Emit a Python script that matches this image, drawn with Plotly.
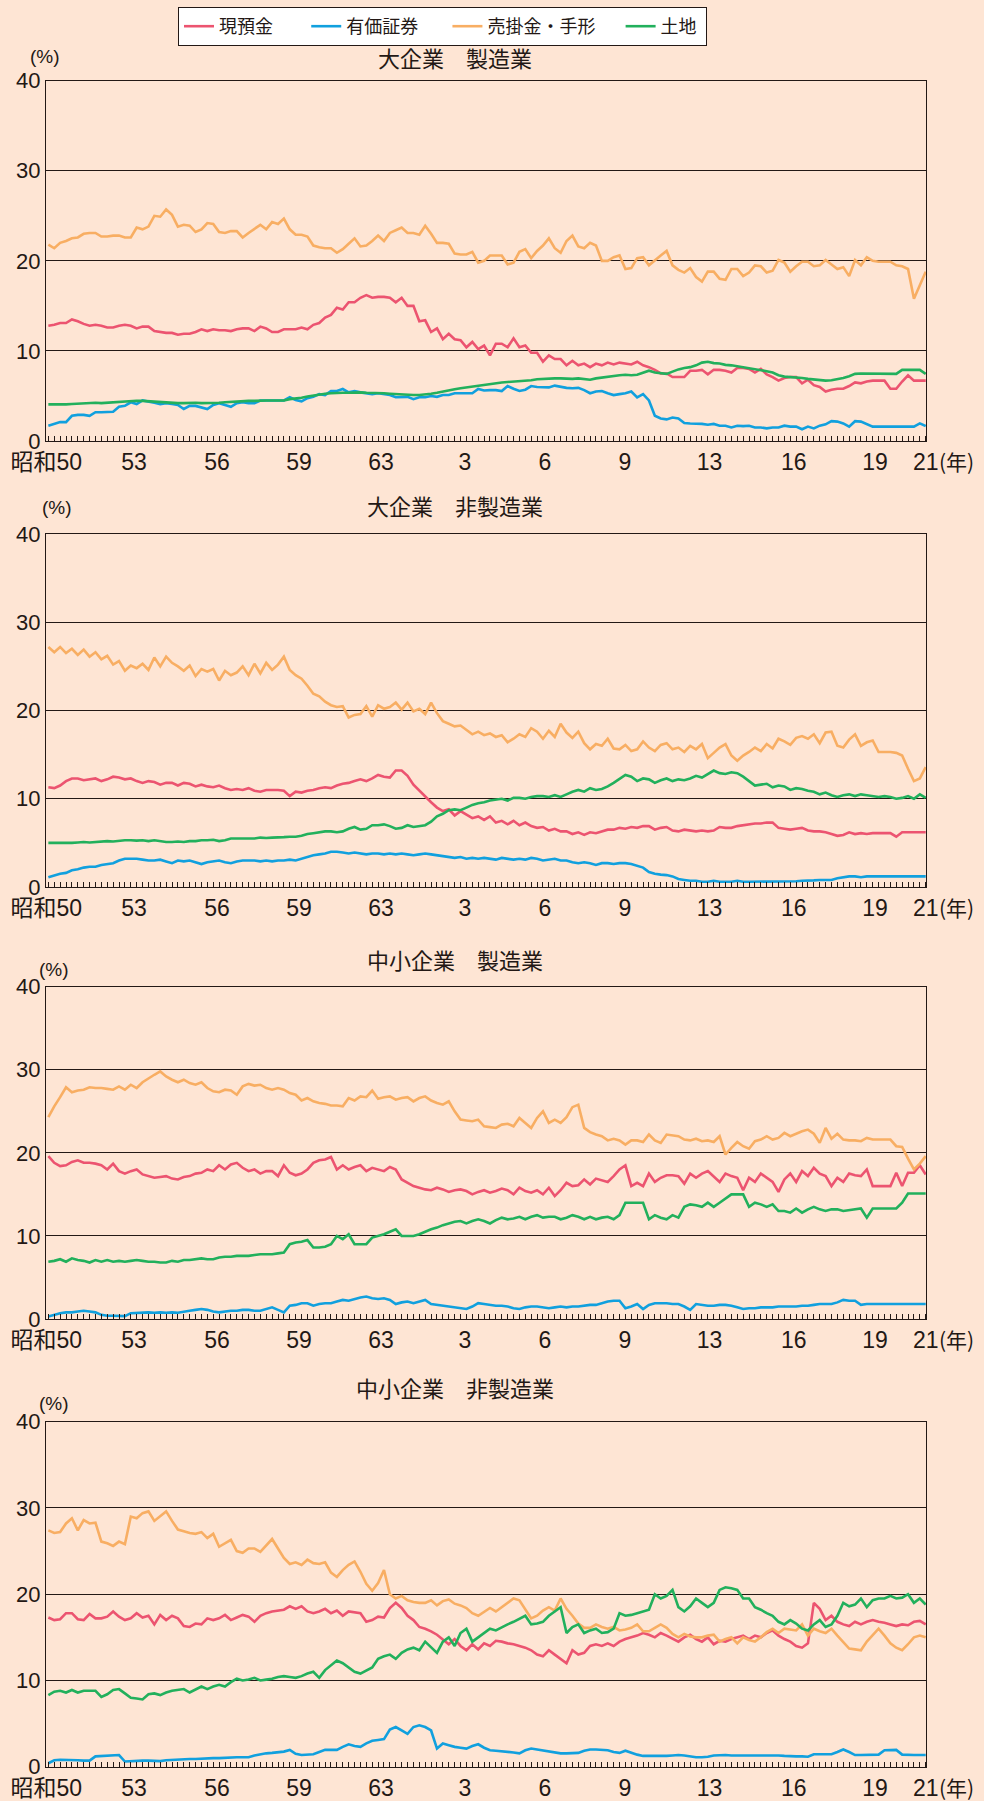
import plotly.graph_objects as go

# 資産構成比（%）・四半期
series_names = ["現預金", "有価証券", "売掛金・手形", "土地"]
series_colors = ["#EC5470", "#11A0DE", "#F8AE63", "#22B05C"]
# trailing no-break spaces widen each legend entry
legend_pad = [7, 6, 5, 1]

# 大企業　製造業
large_mfg_cash = [
    12.8, 12.9, 13.1, 13.1, 13.5, 13.3, 13.0, 12.8, 12.9, 12.8,
    12.6, 12.6, 12.8, 12.9, 12.8, 12.5, 12.7, 12.7, 12.2, 12.1,
    12.0, 12.0, 11.8, 11.9, 11.9, 12.1, 12.4, 12.2, 12.4, 12.3,
    12.3, 12.2, 12.4, 12.5, 12.5, 12.2, 12.7, 12.5, 12.1, 12.1,
    12.4, 12.4, 12.4, 12.6, 12.4, 12.9, 13.1, 13.7, 14.0, 14.8,
    14.6, 15.4, 15.4, 15.9, 16.2, 15.9, 16.0, 16.0, 15.9, 15.4,
    15.9, 15.0, 15.0, 13.3, 13.4, 12.1, 12.5, 11.3, 11.9, 11.3,
    11.2, 10.4, 11.0, 10.2, 10.6, 9.5, 10.8, 10.8, 10.4, 11.4,
    10.4, 10.6, 9.8, 9.8, 8.8, 9.5, 9.1, 9.1, 8.4, 8.9,
    8.4, 8.6, 8.2, 8.6, 8.4, 8.7, 8.5, 8.7, 8.6, 8.5,
    8.8, 8.4, 8.2, 7.9, 7.5, 7.5, 7.1, 7.1, 7.1, 7.8,
    7.8, 7.9, 7.4, 7.9, 7.9, 7.8, 7.6, 8.1, 8.1, 8.0,
    7.6, 8.0, 7.4, 7.1, 6.7, 7.0, 7.1, 7.1, 6.4, 6.8,
    6.2, 6.0, 5.5, 5.7, 5.8, 5.8, 6.1, 6.5, 6.4, 6.6,
    6.7, 6.7, 6.7, 5.8, 5.8, 6.6, 7.3, 6.7, 6.7, 6.7,
]
large_mfg_sec = [
    1.7, 1.9, 2.1, 2.1, 2.8, 2.9, 2.9, 2.8, 3.2, 3.2,
    3.2, 3.25, 3.8, 3.9, 4.3, 4.1, 4.5, 4.4, 4.25, 4.1,
    4.2, 4.1, 4.0, 3.55, 3.9, 3.9, 3.7, 3.55, 4.0, 4.2,
    4.0, 3.8, 4.2, 4.3, 4.2, 4.2, 4.5, 4.5, 4.55, 4.5,
    4.5, 4.85, 4.55, 4.4, 4.75, 4.9, 5.2, 5.1, 5.55, 5.55,
    5.77, 5.4, 5.55, 5.4, 5.3, 5.2, 5.3, 5.2, 5.1, 4.85,
    4.85, 4.9, 4.65, 4.85, 4.85, 5.0, 4.9, 5.1, 5.1, 5.3,
    5.3, 5.3, 5.3, 5.77, 5.6, 5.65, 5.65, 5.55, 6.1, 5.8,
    5.55, 5.7, 6.1, 6.0, 5.95, 5.95, 6.15, 6.0, 5.9, 5.85,
    5.9, 5.65, 5.3, 5.5, 5.55, 5.3, 5.1, 5.2, 5.3, 5.5,
    4.85, 5.2, 4.5, 2.8, 2.5, 2.4, 2.6, 2.5, 2.0, 1.95,
    1.95, 1.9, 1.8, 1.9, 1.7, 1.7, 1.5, 1.7, 1.65, 1.7,
    1.5, 1.5, 1.4, 1.5, 1.5, 1.7, 1.6, 1.6, 1.3, 1.6,
    1.4, 1.7, 1.85, 2.2, 2.15, 1.95, 1.6, 2.2, 2.15, 1.85,
    1.6, 1.6, 1.6, 1.6, 1.6, 1.6, 1.6, 1.6, 1.95, 1.65,
]
large_mfg_recv = [
    21.8, 21.4, 22.0, 22.2, 22.5, 22.6, 23.0, 23.1, 23.1, 22.7,
    22.7, 22.8, 22.8, 22.6, 22.6, 23.7, 23.5, 23.8, 25.0, 24.9,
    25.7, 25.1, 23.8, 24.0, 23.9, 23.2, 23.5, 24.2, 24.1, 23.2,
    23.1, 23.3, 23.3, 22.6, 23.1, 23.6, 24.0, 23.5, 24.3, 24.1,
    24.7, 23.5, 22.9, 22.9, 22.7, 21.7, 21.5, 21.4, 21.4, 20.9,
    21.3, 21.9, 22.5, 21.6, 21.7, 22.2, 22.8, 22.2, 23.1, 23.4,
    23.7, 23.1, 23.1, 22.9, 23.9, 23.0, 22.0, 22.0, 21.9, 20.8,
    20.7, 20.7, 21.0, 19.8, 20.0, 20.6, 20.6, 20.6, 19.6, 19.8,
    21.0, 21.3, 20.3, 21.1, 21.7, 22.5, 21.4, 20.9, 22.2, 22.8,
    21.6, 21.4, 22.0, 21.7, 20.0, 20.0, 20.4, 20.6, 19.1, 19.2,
    20.3, 20.4, 19.5, 20.1, 20.6, 21.1, 19.5, 19.0, 18.7, 19.2,
    18.2, 17.7, 18.8, 18.8, 18.0, 17.9, 19.1, 19.1, 18.3, 18.7,
    19.5, 19.4, 18.7, 18.9, 20.1, 19.8, 18.8, 19.4, 19.9, 19.9,
    19.4, 19.5, 20.1, 19.6, 19.1, 19.3, 18.3, 20.1, 19.5, 20.4,
    20.0, 19.9, 19.9, 19.9, 19.5, 19.4, 19.1, 15.8, 17.3, 18.8,
]
large_mfg_land = [
    4.07, 4.05, 4.07, 4.07, 4.1, 4.15, 4.15, 4.2, 4.25, 4.2,
    4.25, 4.3, 4.35, 4.4, 4.4, 4.47, 4.45, 4.4, 4.35, 4.3,
    4.25, 4.2, 4.2, 4.2, 4.25, 4.25, 4.2, 4.2, 4.2, 4.25,
    4.3, 4.35, 4.4, 4.45, 4.45, 4.45, 4.5, 4.5, 4.5, 4.5,
    4.5, 4.65, 4.7, 4.8, 4.95, 5.05, 5.2, 5.25, 5.3, 5.35,
    5.35, 5.35, 5.4, 5.4, 5.35, 5.35, 5.3, 5.3, 5.25, 5.2,
    5.15, 5.1, 5.1, 5.1, 5.15, 5.25, 5.35, 5.5, 5.6, 5.75,
    5.85, 5.95, 6.05, 6.1, 6.2, 6.3, 6.4, 6.5, 6.55, 6.6,
    6.65, 6.65, 6.75, 6.85, 6.9, 6.9, 6.95, 6.95, 6.9, 6.9,
    6.95, 6.9, 6.8, 6.95, 7.05, 7.1, 7.2, 7.3, 7.35, 7.3,
    7.35, 7.6, 7.8, 7.6, 7.5, 7.45, 7.7, 7.95, 8.1, 8.2,
    8.4, 8.7, 8.8, 8.65, 8.6, 8.45, 8.4, 8.3, 8.2, 8.1,
    8.0, 7.9, 7.75, 7.6, 7.3, 7.15, 7.1, 7.1, 7.0, 6.9,
    6.85, 6.8, 6.7, 6.75, 6.85, 7.0, 7.2, 7.45, 7.5, 7.5,
    7.45, 7.45, 7.45, 7.45, 7.45, 7.9, 7.9, 7.9, 7.9, 7.45,
]

# 大企業　非製造業
large_non_cash = [
    11.3, 11.2, 11.5, 12.0, 12.3, 12.3, 12.1, 12.2, 12.3, 12.0,
    12.2, 12.5, 12.4, 12.2, 12.3, 12.0, 11.8, 12.0, 11.9, 11.6,
    11.8, 11.8, 11.5, 11.8, 11.7, 11.4, 11.6, 11.4, 11.3, 11.5,
    11.2, 11.0, 11.1, 11.0, 11.2, 10.9, 10.8, 11.0, 11.0, 11.0,
    10.9, 10.3, 10.8, 10.7, 10.9, 11.0, 11.2, 11.3, 11.2, 11.5,
    11.7, 11.8, 12.0, 12.2, 12.0, 12.3, 12.7, 12.5, 12.4, 13.2,
    13.2, 12.6, 11.6, 10.9, 10.2, 9.6, 9.0, 8.6, 8.8, 8.1,
    8.6, 8.2, 7.8, 8.0, 7.6, 8.0, 7.3, 7.5, 7.1, 7.5,
    7.0, 7.3, 6.9, 6.7, 6.8, 6.4, 6.6, 6.3, 6.3, 6.0,
    6.2, 5.9, 6.2, 6.1, 6.3, 6.5, 6.5, 6.7, 6.6, 6.8,
    6.7, 6.9, 6.9, 6.5, 6.7, 6.8, 6.4, 6.3, 6.5, 6.4,
    6.3, 6.4, 6.3, 6.4, 6.8, 6.7, 6.7, 6.9, 7.0, 7.1,
    7.2, 7.2, 7.3, 7.3, 6.7, 6.6, 6.5, 6.6, 6.7, 6.4,
    6.3, 6.3, 6.2, 6.0, 5.8, 5.9, 6.2, 6.0, 6.1, 6.0,
    6.1, 6.1, 6.1, 6.1, 5.7, 6.2, 6.2, 6.2, 6.2, 6.2,
]
large_non_sec = [
    1.1, 1.3, 1.5, 1.6, 1.9, 2.0, 2.2, 2.3, 2.3, 2.5,
    2.6, 2.7, 3.0, 3.2, 3.2, 3.2, 3.1, 3.0, 3.0, 3.1,
    2.9, 2.7, 3.0, 2.9, 3.0, 2.8, 2.6, 2.8, 2.9, 3.0,
    2.8, 2.7, 2.9, 3.0, 3.0, 3.0, 2.9, 3.0, 2.9, 3.0,
    3.0, 3.1, 3.0, 3.2, 3.4, 3.6, 3.7, 3.8, 4.0, 4.0,
    3.9, 3.8, 3.9, 3.8, 3.7, 3.8, 3.8, 3.7, 3.8, 3.7,
    3.8, 3.7, 3.6, 3.7, 3.8, 3.7, 3.6, 3.5, 3.4, 3.3,
    3.4, 3.2, 3.3, 3.2, 3.3, 3.2, 3.1, 3.3, 3.2, 3.1,
    3.2, 3.1, 3.3, 3.2, 3.0, 3.1, 3.2, 3.0, 3.0, 2.8,
    2.7, 2.8, 2.7, 2.5, 2.7, 2.7, 2.6, 2.7, 2.7, 2.6,
    2.4, 2.2, 1.7, 1.5, 1.4, 1.35, 1.2, 0.9, 0.8, 0.7,
    0.7, 0.6, 0.6, 0.7, 0.6, 0.6, 0.6, 0.7, 0.6, 0.6,
    0.6, 0.6, 0.6, 0.6, 0.6, 0.6, 0.6, 0.65, 0.7, 0.7,
    0.75, 0.8, 0.8, 0.8, 1.0, 1.1, 1.2, 1.2, 1.1, 1.2,
    1.2, 1.2, 1.2, 1.2, 1.2, 1.2, 1.2, 1.2, 1.2, 1.2,
]
large_non_recv = [
    27.2, 26.6, 27.2, 26.5, 27.0, 26.3, 26.9, 26.1, 26.6, 25.8,
    26.2, 25.2, 25.6, 24.5, 25.1, 24.8, 25.3, 24.6, 26.0, 25.0,
    26.1, 25.4, 25.0, 24.5, 25.1, 23.9, 24.7, 24.4, 24.7, 23.4,
    24.5, 24.0, 24.3, 25.0, 24.0, 25.3, 24.2, 25.4, 24.6, 25.2,
    26.1, 24.6, 24.0, 23.6, 22.8, 21.9, 21.6, 21.0, 20.6, 20.4,
    20.5, 19.2, 19.5, 19.6, 20.5, 19.3, 20.6, 20.2, 20.4, 20.9,
    20.1, 20.9, 19.9, 20.2, 19.6, 20.9, 19.7, 18.8, 18.5, 18.2,
    18.3, 17.8, 17.3, 17.6, 17.2, 17.4, 17.0, 17.2, 16.4, 16.8,
    17.3, 17.0, 18.0, 17.6, 16.8, 17.7, 17.0, 18.5, 17.5, 16.9,
    17.6, 16.3, 15.6, 16.2, 16.0, 16.8, 15.7, 15.6, 16.1, 15.4,
    15.6, 16.5, 15.8, 15.4, 16.1, 16.3, 15.6, 15.8, 15.3, 16.0,
    15.6, 16.2, 14.6, 15.2, 15.8, 16.2, 14.9, 14.3, 14.9, 15.3,
    15.8, 15.4, 16.2, 15.7, 16.8, 16.5, 16.1, 16.9, 17.1, 16.8,
    17.3, 16.3, 17.5, 17.6, 16.0, 15.8, 16.7, 17.3, 16.0, 16.4,
    16.6, 15.3, 15.3, 15.3, 15.2, 14.9, 13.4, 12.0, 12.3, 13.6,
]
large_non_land = [
    5.0, 5.0, 4.95, 5.0, 5.0, 5.05, 5.1, 5.05, 5.1, 5.1,
    5.2, 5.15, 5.25, 5.3, 5.3, 5.25, 5.3, 5.2, 5.3, 5.2,
    5.1, 5.1, 5.15, 5.1, 5.2, 5.2, 5.3, 5.3, 5.35, 5.2,
    5.3, 5.5, 5.5, 5.45, 5.5, 5.5, 5.6, 5.55, 5.6, 5.6,
    5.65, 5.7, 5.7, 5.8, 6.0, 6.1, 6.2, 6.3, 6.3, 6.2,
    6.3, 6.6, 6.8, 6.5, 6.6, 7.0, 7.0, 7.1, 6.9, 6.6,
    6.7, 7.0, 6.8, 6.9, 7.0, 7.4, 8.0, 8.3, 8.7, 8.8,
    8.7, 9.0, 9.3, 9.5, 9.6, 9.8, 9.9, 10.0, 9.8, 10.1,
    10.1, 10.0, 10.2, 10.3, 10.3, 10.2, 10.4, 10.2, 10.5, 10.8,
    11.0, 10.8, 11.2, 11.0, 11.1, 11.4, 11.8, 12.3, 12.7, 12.5,
    12.0, 12.3, 12.2, 11.8, 12.1, 12.3, 12.0, 12.2, 12.1, 12.3,
    12.6, 12.4, 12.8, 13.2, 12.9, 12.8, 13.0, 12.9, 12.5, 12.0,
    11.5, 11.6, 11.7, 11.3, 11.5, 11.4, 11.0, 11.2, 11.1, 10.9,
    10.8, 10.5, 10.7, 10.4, 10.2, 10.4, 10.5, 10.3, 10.5, 10.4,
    10.3, 10.2, 10.3, 10.2, 10.0, 10.1, 10.3, 10.0, 10.5, 10.1,
]

# 中小企業　製造業
small_mfg_cash = [
    19.6, 18.8, 18.4, 18.5, 18.9, 19.1, 18.8, 18.8, 18.7, 18.5,
    18.0, 18.7, 17.8, 17.5, 17.8, 18.0, 17.4, 17.2, 17.0, 17.1,
    17.2, 16.9, 16.8, 17.1, 17.2, 17.5, 17.6, 18.0, 17.8, 18.5,
    18.0, 18.6, 18.8, 18.2, 17.8, 18.0, 17.5, 17.8, 17.8, 17.2,
    18.5, 17.6, 17.3, 17.5, 18.0, 18.8, 19.1, 19.2, 19.5, 18.0,
    18.5, 18.0, 18.3, 18.5, 17.8, 18.2, 18.0, 17.8, 18.3, 18.0,
    16.8, 16.4, 16.0, 15.8, 15.6, 15.5, 15.8, 15.6, 15.3, 15.5,
    15.6, 15.4, 15.0, 15.3, 15.5, 15.2, 15.4, 15.7, 15.5, 15.0,
    15.8, 15.4, 15.2, 15.5, 15.0, 15.8, 14.8, 15.5, 16.4, 16.0,
    16.1, 16.8, 16.2, 16.9, 16.7, 16.5, 17.2, 18.0, 18.5, 16.0,
    16.4, 16.0, 17.5, 16.5, 17.0, 17.3, 17.3, 17.2, 16.3, 17.5,
    17.0, 17.5, 17.8, 17.2, 16.5, 17.5, 17.2, 17.0, 15.5, 17.0,
    16.5, 17.5, 17.0, 16.5, 15.3, 16.8, 17.5, 16.5, 17.8, 17.2,
    18.2, 17.5, 17.2, 16.0, 17.0, 16.5, 17.5, 17.3, 17.2, 18.0,
    16.0, 16.0, 16.0, 16.0, 17.6, 16.0, 17.6, 17.6, 18.5, 17.4,
]
small_mfg_sec = [
    0.3, 0.5, 0.7, 0.8, 0.8, 0.9, 1.0, 0.9, 0.8, 0.5,
    0.4, 0.4, 0.35, 0.35, 0.7, 0.75, 0.75, 0.8, 0.75, 0.8,
    0.75, 0.8, 0.75, 0.9, 1.0, 1.1, 1.2, 1.1, 0.9, 0.8,
    0.9, 1.0, 1.0, 1.1, 1.1, 1.0, 1.0, 1.2, 1.4, 1.1,
    0.8, 1.6, 1.7, 1.9, 1.9, 1.6, 1.8, 1.9, 1.9, 2.1,
    2.3, 2.2, 2.4, 2.6, 2.7, 2.5, 2.4, 2.5, 2.3, 1.8,
    2.0, 2.1, 1.9, 2.1, 2.3, 1.8, 1.7, 1.6, 1.5, 1.4,
    1.3, 1.2, 1.5, 1.9, 1.8, 1.7, 1.6, 1.6, 1.5, 1.3,
    1.2, 1.4, 1.5, 1.5, 1.4, 1.3, 1.4, 1.5, 1.4, 1.5,
    1.5, 1.6, 1.7, 1.7, 1.9, 2.1, 2.2, 2.2, 1.3, 1.5,
    1.8, 1.2, 1.7, 1.9, 1.9, 1.9, 1.8, 1.8, 1.5, 1.1,
    1.8, 1.7, 1.6, 1.6, 1.7, 1.7, 1.6, 1.4, 1.2, 1.3,
    1.3, 1.4, 1.4, 1.4, 1.5, 1.5, 1.5, 1.5, 1.6, 1.6,
    1.7, 1.8, 1.8, 1.8, 2.0, 2.3, 2.2, 2.2, 1.7, 1.8,
    1.8, 1.8, 1.8, 1.8, 1.8, 1.8, 1.8, 1.8, 1.8, 1.8,
]
small_mfg_recv = [
    24.3, 25.6, 26.7, 27.9, 27.3, 27.5, 27.6, 27.9, 27.8, 27.8,
    27.7, 27.6, 28.0, 27.6, 28.2, 27.8, 28.5, 29.0, 29.4, 29.8,
    29.2, 28.8, 28.5, 28.8, 28.4, 28.2, 28.5, 27.8, 27.4, 27.3,
    27.6, 27.5, 27.0, 28.0, 28.3, 28.1, 28.2, 27.8, 27.6, 27.8,
    27.6, 27.2, 27.0, 26.3, 26.6, 26.2, 26.0, 25.9, 25.7, 25.7,
    25.6, 26.6, 26.3, 26.8, 26.7, 27.5, 26.5, 26.7, 26.8, 26.4,
    26.6, 26.7, 26.2, 26.6, 26.8, 26.3, 26.0, 25.8, 26.2, 25.0,
    24.0, 23.9, 23.8, 24.0, 23.2, 23.1, 23.0, 23.4, 23.5, 23.2,
    24.2, 23.6, 23.0, 24.2, 25.0, 23.6, 24.0, 23.6, 24.3, 25.5,
    25.8, 23.0, 22.5, 22.2, 22.0, 21.5, 21.7, 21.5, 21.0, 21.5,
    21.5, 21.3, 22.2, 21.5, 21.2, 22.2, 22.1, 22.0, 21.6, 21.5,
    21.7, 21.4, 21.5, 21.3, 22.0, 19.8, 20.6, 21.3, 20.8, 20.5,
    21.4, 21.6, 22.0, 21.6, 21.8, 22.4, 22.0, 22.3, 22.6, 22.8,
    22.3, 21.2, 23.0, 21.7, 22.3, 21.6, 21.5, 21.5, 21.4, 21.8,
    21.6, 21.6, 21.6, 21.6, 20.8, 20.7, 19.3, 18.0, 18.7, 19.6,
]
small_mfg_land = [
    6.9, 7.0, 7.2, 6.9, 7.3, 7.1, 7.0, 6.8, 7.1, 6.9,
    7.1, 6.9, 7.0, 6.9, 7.0, 7.1, 7.0, 6.9, 6.9, 6.8,
    6.8, 7.0, 6.9, 7.1, 7.1, 7.2, 7.3, 7.2, 7.2, 7.4,
    7.5, 7.5, 7.6, 7.6, 7.6, 7.7, 7.8, 7.8, 7.8, 7.9,
    8.0, 9.0, 9.2, 9.3, 9.5, 8.6, 8.6, 8.7, 9.0, 10.0,
    9.6, 10.2, 9.0, 9.0, 9.0, 9.8, 10.0, 10.2, 10.5, 10.8,
    10.0, 10.0, 10.0, 10.2, 10.5, 10.8, 11.0, 11.3, 11.5, 11.7,
    11.8, 11.5, 11.8, 12.0, 11.8, 11.5, 11.9, 12.2, 12.0, 12.1,
    12.3, 12.0, 12.3, 12.5, 12.2, 12.3, 12.3, 12.0, 12.2, 12.5,
    12.3, 12.0, 12.3, 12.0, 12.2, 12.3, 12.0, 12.5, 14.0, 14.0,
    14.0, 14.0, 12.0, 12.5, 12.2, 12.0, 12.5, 12.2, 13.5, 13.8,
    13.7, 13.5, 14.0, 13.5, 14.0, 14.5, 15.0, 15.0, 15.0, 13.5,
    14.0, 13.8, 13.5, 13.8, 13.0, 13.0, 12.8, 13.3, 12.8, 13.2,
    13.5, 13.2, 13.0, 13.2, 13.2, 13.0, 13.1, 13.2, 13.3, 12.2,
    13.3, 13.3, 13.3, 13.3, 13.3, 14.0, 15.1, 15.1, 15.1, 15.1,
]

# 中小企業　非製造業
small_non_cash = [
    17.3, 17.0, 17.1, 17.8, 17.8, 17.1, 17.0, 17.7, 17.2, 17.2,
    17.4, 18.0, 17.4, 17.0, 17.2, 17.8, 17.3, 17.5, 16.5, 17.6,
    17.0, 17.5, 17.2, 16.3, 16.2, 16.6, 16.5, 17.2, 17.0, 17.2,
    17.6, 17.0, 17.3, 17.6, 17.4, 16.8, 17.5, 17.8, 18.0, 18.1,
    18.2, 18.6, 18.3, 18.6, 18.0, 17.8, 18.0, 18.3, 17.8, 18.1,
    17.5, 18.0, 17.9, 17.8, 16.8, 17.0, 17.4, 17.3, 18.4, 19.0,
    18.4, 17.5, 17.0, 16.2, 16.0, 15.7, 15.3, 14.8, 14.2, 14.8,
    14.0, 13.5, 14.2, 13.6, 14.3, 14.0, 14.6, 14.5, 14.3, 14.2,
    14.0, 13.8, 13.5, 13.0, 12.8, 13.5, 13.0, 12.5, 12.0, 13.5,
    13.0, 13.2, 14.0, 14.2, 14.0, 14.3, 14.0, 14.5, 14.8, 15.0,
    15.2, 15.5, 15.3, 15.0, 15.5, 15.2, 14.8, 14.5, 15.0, 15.3,
    14.8, 14.5, 15.0, 14.2, 14.6, 14.5, 14.8, 15.0, 15.2, 14.8,
    15.2, 15.0, 15.5, 15.8, 15.2, 14.8, 14.5, 14.0, 13.8, 14.3,
    19.0, 18.3, 17.0, 17.5, 16.8, 16.5, 16.3, 16.8, 16.5, 16.8,
    17.0, 16.8, 16.7, 16.5, 16.3, 16.5, 16.4, 16.8, 16.9, 16.5,
]
small_non_sec = [
    0.4, 0.75, 0.8, 0.8, 0.75, 0.75, 0.7, 0.7, 1.2, 1.25,
    1.25, 1.35, 1.35, 0.6, 0.65, 0.65, 0.7, 0.7, 0.65, 0.65,
    0.75, 0.8, 0.8, 0.85, 0.9, 0.9, 0.95, 1.0, 1.0, 1.0,
    1.05, 1.1, 1.1, 1.1, 1.1, 1.3, 1.45, 1.55, 1.6, 1.7,
    1.75, 1.95, 1.5, 1.35, 1.4, 1.45, 1.7, 1.95, 1.95, 1.95,
    2.3, 2.6, 2.4, 2.3, 2.7, 3.0, 3.1, 3.2, 4.3, 4.6,
    4.2, 3.8, 4.6, 4.8, 4.6, 4.2, 2.1, 2.7, 2.5, 2.3,
    2.2, 2.1, 2.4, 2.6, 2.2, 1.9, 1.85, 1.8, 1.75, 1.65,
    1.55, 1.9, 2.1, 2.0, 1.9, 1.8, 1.65, 1.55, 1.55, 1.55,
    1.6, 1.85, 2.0, 2.0, 1.95, 1.9, 1.7, 1.6, 1.85, 1.6,
    1.4, 1.25, 1.25, 1.2, 1.2, 1.25, 1.3, 1.35, 1.3, 1.2,
    1.1, 1.1, 1.15, 1.3, 1.35, 1.35, 1.3, 1.3, 1.3, 1.3,
    1.3, 1.35, 1.35, 1.3, 1.3, 1.25, 1.2, 1.2, 1.2, 1.15,
    1.45, 1.45, 1.45, 1.45, 1.7, 2.0, 1.7, 1.35, 1.35, 1.35,
    1.35, 1.4, 1.9, 1.95, 1.95, 1.4, 1.35, 1.35, 1.35, 1.35,
]
small_non_recv = [
    27.4, 27.1, 27.2, 28.2, 28.8, 27.4, 28.6, 28.2, 28.3, 26.1,
    25.9, 25.6, 26.1, 25.8, 29.0, 28.8, 29.4, 29.6, 28.5, 29.0,
    29.6, 28.5, 27.5, 27.3, 27.1, 27.0, 27.2, 26.5, 27.0, 25.5,
    25.9, 26.3, 25.0, 24.8, 25.3, 25.3, 24.9, 25.6, 26.4, 25.3,
    24.2, 23.5, 23.7, 23.4, 24.0, 23.6, 23.5, 23.7, 22.5, 22.0,
    22.8, 23.4, 23.8, 22.6, 21.2, 20.4, 21.3, 22.8, 20.0, 19.5,
    19.8, 19.3, 19.1, 19.0, 19.0, 19.3, 18.7, 19.2, 19.4, 18.9,
    18.7, 18.4, 17.8, 17.5, 18.0, 18.4, 18.0, 18.5, 18.9, 19.5,
    19.3, 18.2, 17.2, 17.5, 18.1, 18.5, 18.1, 19.5, 18.3, 17.5,
    16.6, 16.1, 16.1, 16.5, 16.2, 16.0, 16.2, 15.8, 15.9, 16.1,
    16.5, 15.7, 15.7, 16.1, 16.5, 16.1, 15.4, 15.0, 15.4, 15.1,
    15.0, 15.0, 15.2, 15.3, 14.5, 14.8, 15.0, 14.3, 15.0, 14.7,
    14.5, 15.0, 15.6, 16.0, 15.5, 16.0, 15.9, 15.8, 16.5, 15.2,
    16.0, 15.7, 15.5, 16.0, 15.2, 14.5, 13.7, 13.6, 13.5, 14.5,
    15.3, 16.0, 15.2, 14.3, 13.8, 13.5, 14.2, 15.0, 15.2, 15.0,
]
small_non_land = [
    8.3, 8.7, 8.8, 8.6, 8.9, 8.6, 8.8, 8.8, 8.8, 8.1,
    8.4, 8.9, 9.0, 8.5, 8.0, 7.9, 7.8, 8.4, 8.5, 8.3,
    8.6, 8.8, 8.9, 9.0, 8.6, 9.0, 9.3, 9.0, 9.3, 9.5,
    9.3, 9.8, 10.2, 10.0, 10.1, 10.3, 10.0, 10.1, 10.2, 10.4,
    10.5, 10.4, 10.3, 10.5, 10.8, 11.0, 10.3, 11.2, 11.8, 12.3,
    12.0, 11.5, 11.0, 10.8, 11.2, 11.5, 12.5, 12.8, 13.0, 12.5,
    13.2, 13.6, 13.8, 13.5, 14.5, 13.8, 13.2, 14.5, 15.0, 14.0,
    15.5, 16.0, 14.5, 15.0, 15.5, 16.0, 15.8, 16.2, 16.5, 16.8,
    17.2, 17.5, 16.5, 16.6, 16.8, 17.5, 18.0, 18.5, 15.5, 16.2,
    16.5, 15.5, 15.8, 16.0, 15.5, 15.6, 16.0, 17.8, 17.5, 17.6,
    17.8, 18.0, 18.2, 20.0, 19.5, 19.8, 20.5, 18.5, 18.0, 18.6,
    19.5, 19.0, 18.5, 19.0, 20.5, 20.8, 20.7, 20.5, 19.5, 19.5,
    18.5, 18.2, 17.8, 17.5, 16.8, 16.5, 17.0, 16.6, 16.0, 15.8,
    16.5, 17.0, 16.2, 16.5, 17.5, 19.0, 18.6, 18.8, 19.5, 18.5,
    19.3, 19.5, 19.5, 19.8, 19.5, 19.6, 20.0, 19.0, 19.5, 18.8,
]

panel_titles = ["大企業　製造業", "大企業　非製造業", "中小企業　製造業", "中小企業　非製造業"]
panel_series = [
    [large_mfg_cash, large_mfg_sec, large_mfg_recv, large_mfg_land],
    [large_non_cash, large_non_sec, large_non_recv, large_non_land],
    [small_mfg_cash, small_mfg_sec, small_mfg_recv, small_mfg_land],
    [small_non_cash, small_non_sec, small_non_recv, small_non_land],
]

year_labels = ["昭和50", "53", "56", "59", "63", "3", "6", "9", "13", "16", "19", "21"]
year_label_pos = [-0.35, 14.55, 28.64, 42.56, 56.49, 70.75, 84.33, 97.9, 112.3, 126.6, 140.4, 149]

n_points = len(large_mfg_cash)
for group in panel_series:
    for vals in group:
        assert len(vals) == n_points, len(vals)
quarter_index = list(range(n_points))

BG = "#FEE5D4"
INK = "#231815"
W, H = 984, 1801
ML, MR = 46, 58

# panel plot areas in page pixels (top, bottom)
panel_px = [(80.7, 441), (534, 887), (986.7, 1319), (1421.7, 1766.7)]
title_y = [57, 505, 959, 1387]
unit_pos = [(45, 57), (57, 508), (54, 970), (54, 1403)]


def py(v):
    return 1 - v / H


def px(v):
    return (v - ML) / (W - ML - MR)


fig = go.Figure()
for p, series in enumerate(panel_series):
    ax = "" if p == 0 else str(p + 1)
    for s, vals in enumerate(series):
        fig.add_trace(go.Scatter(
            x=quarter_index, y=vals, mode="lines",
            name=series_names[s] + "\u00a0" * legend_pad[s],
            line=dict(color=series_colors[s], width=2.6),
            xaxis="x" + ax, yaxis="y" + ax,
            showlegend=(p == 0),
        ))

layout = dict(
    width=W, height=H,
    paper_bgcolor=BG, plot_bgcolor=BG,
    margin=dict(l=ML, r=MR, t=0, b=0),
    font=dict(family="Liberation Sans, Noto Sans CJK JP", color=INK),
    legend=dict(
        orientation="h", x=px(178), y=py(7), xanchor="left", yanchor="top",
        bgcolor="white", bordercolor=INK, borderwidth=1,
        font=dict(size=18, family="Noto Sans CJK JP", color=INK),
        itemwidth=30,
    ),
    annotations=[],
    showlegend=True,
)
for p in range(4):
    ax = "" if p == 0 else str(p + 1)
    top, bot = panel_px[p]
    layout["xaxis" + ax] = dict(
        domain=[0, 1], anchor="y" + ax,
        range=[-0.4, n_points - 1 + 0.05],
        tickmode="array", tickvals=year_label_pos, ticktext=year_labels,
        ticks="", showgrid=False, zeroline=False,
        showline=True, mirror=True, linecolor=INK, linewidth=1.4,
        tickfont=dict(size=23, family="Liberation Sans, Noto Sans CJK JP", color=INK),
        minor=dict(tickmode="linear", tick0=0, dtick=1, ticks="inside",
                   ticklen=5, tickwidth=1, tickcolor=INK, showgrid=False),
        automargin=False, fixedrange=True,
    )
    layout["yaxis" + ax] = dict(
        domain=[py(bot), py(top)], anchor="x" + ax,
        range=[0, 40], tickmode="array", tickvals=[0, 10, 20, 30, 40],
        ticks="", showgrid=True, gridcolor=INK, gridwidth=1.2,
        zeroline=False, showline=True, mirror=True, linecolor=INK, linewidth=1.4,
        tickfont=dict(size=22, family="Liberation Sans", color=INK),
        automargin=False, fixedrange=True,
    )
    layout["annotations"].append(dict(
        text=panel_titles[p], x=px(455), y=py(title_y[p]), xref="paper", yref="paper",
        xanchor="center", yanchor="middle", showarrow=False,
        font=dict(size=22, family="Noto Sans CJK JP", color=INK),
    ))
    ux, uy = unit_pos[p]
    layout["annotations"].append(dict(
        text="(%)", x=px(ux), y=py(uy), xref="paper", yref="paper",
        xanchor="center", yanchor="middle", showarrow=False,
        font=dict(size=19, family="Liberation Sans", color=INK),
    ))
    layout["annotations"].append(dict(
        text="(年)", x=px(937), y=py(bot + 20), xref="paper", yref="paper",
        xanchor="left", yanchor="middle", showarrow=False,
        font=dict(size=21, family="Noto Sans CJK JP", color=INK),
    ))

fig.update_layout(**layout)
fig.write_html("out.html")
